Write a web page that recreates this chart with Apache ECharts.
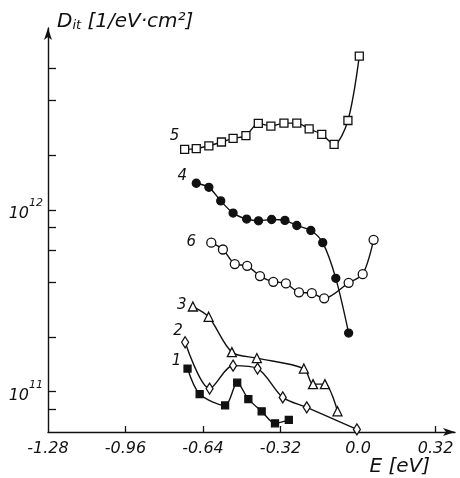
<!DOCTYPE html>
<html>
<head>
<meta charset="utf-8">
<script src="https://cdn.jsdelivr.net/npm/echarts@6/dist/echarts.min.js"></script>
<style>html,body{margin:0;padding:0;background:#fff}#chart{width:460px;height:478px}</style>
</head>
<body>
<div id="chart"></div>
<script>
// ---- data ----
const xTickValues = [-1.28, -0.96, -0.64, -0.32, 0, 0.32];
const xTickLabels = ['-1.28', '-0.96', '-0.64', '-0.32', '0.0', '0.32'];
const yTickValues = [8e10, 1e11, 2e11, 4e11, 6e11, 8e11, 1e12, 2e12, 4e12, 6e12];
const yLabelValues = [1e11, 1e12];
const yLabelExponents = ['11', '12'];

const seriesNames = ['1', '2', '3', '4', '5', '6'];

const e1 = [-0.704, -0.654, -0.549, -0.499, -0.453, -0.398, -0.343, -0.286];
const d1 = [1.34e11, 9.7e10, 8.4e10, 1.12e11, 9.1e10, 7.8e10, 6.7e10, 7.0e10];

const e2 = [-0.714, -0.613, -0.516, -0.415, -0.311, -0.212, -0.005];
const d2 = [1.87e11, 1.04e11, 1.39e11, 1.34e11, 9.3e10, 8.2e10, 6.2e10];

const e3 = [-0.682, -0.617, -0.521, -0.418, -0.224, -0.186, -0.137, -0.085];
const d3 = [2.94e11, 2.58e11, 1.65e11, 1.53e11, 1.34e11, 1.10e11, 1.10e11, 7.8e10];

const e4 = [-0.668, -0.616, -0.567, -0.516, -0.46, -0.411, -0.357, -0.302, -0.253, -0.195, -0.146, -0.092, -0.039];
const d4 = [1.40e12, 1.33e12, 1.12e12, 9.6e11, 8.9e11, 8.7e11, 8.85e11, 8.75e11, 8.2e11, 7.7e11, 6.6e11, 4.2e11, 2.1e11];

const e5 = [-0.716, -0.668, -0.616, -0.564, -0.516, -0.463, -0.412, -0.36, -0.306, -0.253, -0.202, -0.15, -0.099, -0.042, 0.005];
const d5 = [2.15e12, 2.17e12, 2.25e12, 2.36e12, 2.47e12, 2.56e12, 2.99e12, 2.89e12, 3.0e12, 3.0e12, 2.79e12, 2.6e12, 2.29e12, 3.1e12, 7.0e12];

const e6 = [-0.606, -0.558, -0.509, -0.458, -0.405, -0.35, -0.298, -0.244, -0.191, -0.14, -0.039, 0.019, 0.064];
const d6 = [6.6e11, 6.05e11, 5.03e11, 4.92e11, 4.32e11, 4.02e11, 3.94e11, 3.52e11, 3.48e11, 3.26e11, 3.97e11, 4.43e11, 6.84e11];

// ---- styles ----
const FONT = 'DejaVu Sans';
const INK = '#111';
const seriesStyles = [
  { symbol: 'rect', size: 7, fill: INK, labelOffset: [-11, -7] },
  { symbol: 'diamond', size: [7, 11], fill: '#fff', labelOffset: [-7, -11] },
  { symbol: 'triangle', size: 9, fill: '#fff', labelOffset: [-11, -1] },
  { symbol: 'circle', size: 8, fill: INK, labelOffset: [-14, -7] },
  { symbol: 'rect', size: 8, fill: '#fff', labelOffset: [-10, -13] },
  { symbol: 'circle', size: 9, fill: '#fff', labelOffset: [-20, -1] }
];
const xs = [e1, e2, e3, e4, e5, e6];
const ys = [d1, d2, d3, d4, d5, d6];

const series = seriesNames.map((name, i) => {
  const st = seriesStyles[i];
  const data = xs[i].map((x, k) => {
    const item = { value: [x, ys[i][k]] };
    if (k === 0) {
      item.label = {
        show: true, formatter: name, position: 'inside', offset: st.labelOffset,
        fontFamily: FONT, fontStyle: 'italic', fontSize: 15, color: INK
      };
    }
    return item;
  });
  return {
    name: name,
    type: 'line',
    smooth: 0.3,
    data: data,
    symbol: st.symbol,
    symbolSize: st.size,
    showAllSymbol: true,
    lineStyle: { color: INK, width: 1.4 },
    itemStyle: { color: st.fill, borderColor: INK, borderWidth: 1.3 },
    label: { show: false },
    z: 3
  };
});

const chart = echarts.init(document.getElementById('chart'), null, { renderer: 'canvas' });
chart.setOption({
  animation: false,
  backgroundColor: '#fff',
  grid: { left: 48, right: 5, top: 28, bottom: 46, containLabel: false },
  xAxis: {
    type: 'value',
    min: -1.28,
    max: 0.4,
    interval: 0.32,
    splitLine: { show: false },
    axisLine: { onZero: false, lineStyle: { color: INK, width: 1.4 }, symbol: ['none', 'arrow'], symbolSize: [6, 12] },
    axisTick: { inside: true, length: 6, lineStyle: { color: INK, width: 1.3 }, customValues: xTickValues.slice(1) },
    axisLabel: {
      customValues: xTickValues,
      formatter: v => {
        const idx = xTickValues.findIndex(t => Math.abs(t - v) < 1e-6);
        return idx >= 0 ? xTickLabels[idx] : '';
      },
      margin: 9, fontFamily: FONT, fontStyle: 'italic', fontSize: 16, color: INK
    },
    name: 'E [eV]',
    nameLocation: 'end',
    nameGap: -25,
    nameTextStyle: { fontFamily: FONT, fontStyle: 'italic', fontSize: 20, color: INK, align: 'right', verticalAlign: 'top', padding: [25, 0, 0, 0] }
  },
  yAxis: {
    type: 'log',
    logBase: 10,
    min: 6e10,
    max: 1e13,
    splitLine: { show: false },
    axisLine: { onZero: false, lineStyle: { color: INK, width: 1.4 }, symbol: ['none', 'arrow'], symbolSize: [6, 12] },
    axisTick: { inside: true, length: 8, lineStyle: { color: INK, width: 1.3 }, customValues: yTickValues },
    axisLabel: {
      customValues: yLabelValues,
      formatter: v => {
        const idx = yLabelValues.findIndex(t => Math.abs(Math.log10(t) - Math.log10(v)) < 1e-6);
        return idx >= 0 ? '{b|10}{s|' + yLabelExponents[idx] + '}' : '';
      },
      margin: 5,
      rich: {
        b: { fontFamily: FONT, fontStyle: 'italic', fontSize: 16, color: INK, lineHeight: 24, verticalAlign: 'bottom' },
        s: { fontFamily: FONT, fontStyle: 'italic', fontSize: 11, color: INK, verticalAlign: 'top' }
      }
    },
    name: 'D{sub|it} [1/eV·cm²]',
    nameLocation: 'end',
    nameGap: -4,
    nameTextStyle: {
      fontFamily: FONT, fontStyle: 'italic', fontSize: 20, color: INK, align: 'left', padding: [0, 0, 0, 9],
      rich: { sub: { fontFamily: FONT, fontStyle: 'italic', fontSize: 13, color: INK, verticalAlign: 'bottom' } }
    }
  },
  series: series
});
</script>
</body>
</html>
